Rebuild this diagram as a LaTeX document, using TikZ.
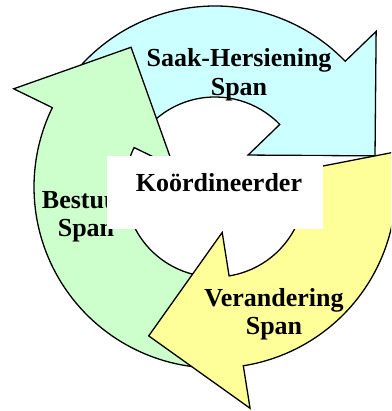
\documentclass[tikz,border=0pt]{standalone}
\usepackage{fontspec}
\setmainfont{Liberation Serif}
\definecolor{cyanfill}{HTML}{CCFFFF}
\definecolor{greenfill}{HTML}{CCFFCC}
\definecolor{yellowfill}{HTML}{FFFF99}
\begin{document}
\begin{tikzpicture}[x=1pt,y=1pt,
  arrowshape/.style={draw=black, line width=1.3pt, line join=miter, shift={(215pt,224pt)}},
  lbl/.style={font=\fontsize{26}{29}\selectfont\bfseries, inner sep=0pt, anchor=base}]
\useasboundingbox (0,0) rectangle (391,411);
\clip (0,0) rectangle (391,411);
% cyan arrow (top)
\draw[arrowshape, fill=cyanfill] (140:181pt) arc[start angle=140, end angle=44, radius=181pt]
  -- (44:224pt) -- (11:163pt) -- (44:46pt) -- (44:90pt)
  arc[start angle=44, end angle=140, radius=90pt] -- cycle;
% green arrow (left)
\draw[arrowshape, fill=greenfill] (265:181pt) arc[start angle=265, end angle=154, radius=181pt]
  -- (154:224pt) -- (121:163pt) -- (154:46pt) -- (154:90pt)
  arc[start angle=154, end angle=265, radius=90pt] -- cycle;
% yellow arrow (lower right)
\draw[arrowshape, fill=yellowfill] (11:181pt) arc[start angle=11, end angle=-81, radius=181pt]
  -- (-81:224pt) -- (-114:163pt) -- (-81:46pt) -- (-81:90pt)
  arc[start angle=-81, end angle=11, radius=90pt] -- cycle;
% labels
\node[lbl] (saak1) at (239,344) {Saak-Hersiening};
\node[lbl] (saak2) at (239,315) {Span};
\node[lbl] (best1) at (86,202) {Bestuur};
\node[lbl] (best2) at (86,174) {Span};
\node[lbl] (ver1) at (274,104) {Verandering};
\node[lbl] (ver2) at (274,76) {Span};
% centre box
\node[fill=white, draw=none, minimum width=216pt, minimum height=73pt, inner sep=0pt] (box) at (215,218.5) {};
\node[lbl] (koord) at (219,219) {Koördineerder};
\end{tikzpicture}
\end{document}
